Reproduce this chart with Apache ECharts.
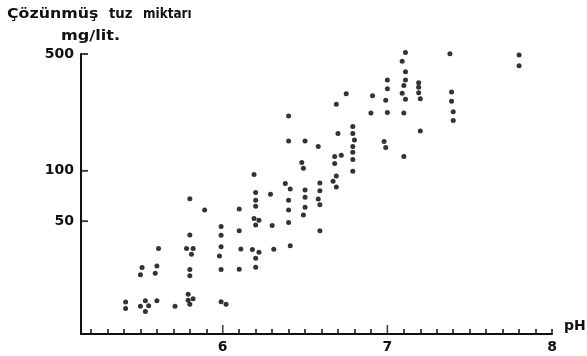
<!DOCTYPE html>
<html>
<head>
<meta charset="utf-8">
<script src="https://cdn.jsdelivr.net/npm/echarts@6/dist/echarts.min.js"></script>
<style>
html, body { margin: 0; padding: 0; background: #fff; }
#chart { width: 587px; height: 356px; }
</style>
</head>
<body>
<div id="chart"></div>
<script>
// pH of each sample
const phValues = [
  5.41, 5.41, 5.51, 5.50, 5.50, 5.53, 5.55, 5.53, 5.61, 5.60, 5.59, 5.60, 5.71,
  5.80, 5.80, 5.78, 5.82, 5.81, 5.80, 5.80, 5.79, 5.79, 5.82, 5.80, 5.89,
  5.99, 5.99, 5.99, 5.98, 5.99, 5.99, 6.02,
  6.10, 6.10, 6.11, 6.10,
  6.19, 6.20, 6.20, 6.20, 6.19, 6.22, 6.20, 6.18, 6.22, 6.20, 6.20,
  6.29, 6.30, 6.31,
  6.40, 6.40, 6.38, 6.41, 6.40, 6.40, 6.40, 6.41,
  6.50, 6.48, 6.49, 6.50, 6.50, 6.50, 6.49,
  6.58, 6.59, 6.59, 6.58, 6.59, 6.59,
  6.69, 6.70, 6.68, 6.72, 6.68, 6.69, 6.67, 6.69, 6.75,
  6.79, 6.79, 6.80, 6.79, 6.79, 6.79, 6.79,
  6.90, 6.91,
  7.00, 7.00, 6.99, 7.00, 6.98, 6.99,
  7.11, 7.09, 7.11, 7.11, 7.10, 7.09, 7.11, 7.10, 7.10,
  7.19, 7.19, 7.19, 7.20, 7.20,
  7.38, 7.39, 7.39, 7.40, 7.40,
  7.80, 7.80
];
// dissolved salt, mg/lit.
const saltValues = [
  16.4, 15.0, 26.4, 23.9, 15.5, 16.7, 15.6, 14.4, 34.3, 27.0, 24.4, 16.7, 15.5,
  68.2, 41.4, 34.3, 34.3, 31.7, 25.7, 23.6, 18.3, 16.8, 17.2, 15.9, 58.4,
  46.4, 41.2, 35.1, 31.0, 25.7, 16.5, 15.9,
  59.2, 43.8, 34.1, 25.8,
  95.0, 74.1, 66.8, 61.5, 51.8, 50.7, 47.4, 33.8, 32.6, 30.0, 26.5,
  72.5, 47.1, 34.0,
  213, 151, 83.9, 77.8, 66.6, 58.3, 49.1, 35.6,
  151, 112, 103.5, 76.9, 69.6, 60.6, 54.4,
  140, 84.5, 75.9, 67.8, 62.6, 43.8,
  250, 167, 122, 124, 110.6, 93, 86.8, 80, 289,
  184, 167, 153, 140, 129, 117, 99.3,
  222, 281,
  349, 310, 264, 223, 150, 138,
  510, 452, 392, 350, 324, 291, 268, 222, 122,
  336, 316, 293, 270, 173,
  502, 296, 261, 226, 200,
  494, 425
];
const xTickLabels = [6, 7, 8];
const xMajorTicks = [6, 7];
const yTickLabels = [50, 100, 500];
const xMin = 5.139, xMax = 8;
const yMin = 10.57, yMax = 500;

const xMinorTicks = [];
for (let i = 52; i <= 80; i++) {
  if (i !== 60 && i !== 70) xMinorTicks.push(i / 10);
}

const ink = '#111';
const font = 'DejaVu Sans';
const titleFont = 'bold 14px "DejaVu Sans"';

const points = phValues.map((p, i) => [p, saltValues[i]]);

const chart = echarts.init(document.getElementById('chart'));
chart.setOption({
  animation: false,
  grid: { left: 81, right: 35, top: 54, bottom: 22 },
  xAxis: {
    type: 'value', min: xMin, max: xMax, position: 'bottom',
    axisLine: { show: true, onZero: false, lineStyle: { color: ink, width: 2 } },
    axisTick: { show: true, inside: true, length: 5, customValues: xMinorTicks, lineStyle: { color: ink, width: 1.5 } },
    axisLabel: { show: true, customValues: xTickLabels, margin: 6, color: ink, fontSize: 14, fontWeight: 'bold', fontFamily: font },
    splitLine: { show: false }
  },
  yAxis: {
    type: 'log', min: yMin, max: yMax, position: 'left',
    axisLine: { show: true, onZero: false, lineStyle: { color: ink, width: 2 } },
    axisTick: { show: false },
    axisLabel: { show: true, customValues: yTickLabels, margin: 7, color: ink, fontSize: 14, fontWeight: 'bold', fontFamily: font },
    splitLine: { show: false }
  },
  series: [
    {
      type: 'scatter',
      data: points,
      symbol: 'circle',
      symbolSize: 5,
      clip: false,
      itemStyle: { color: '#000' }
    },
    {
      // y ticks at 50, 100, 500 (small bars pointing into the plot)
      type: 'scatter', silent: true, clip: false, z: 5,
      data: yTickLabels.map(v => [xMin, v]),
      symbol: 'rect', symbolSize: [7, 2], symbolOffset: [3.5, 0],
      itemStyle: { color: ink }
    },
    {
      // longer ticks at pH 6 and 7
      type: 'scatter', silent: true, clip: false, z: 5,
      data: xMajorTicks.map(v => [v, yMin]),
      symbol: 'rect', symbolSize: [1.6, 9], symbolOffset: [0, -4.5],
      itemStyle: { color: ink }
    }
  ],
  graphic: [
    { type: 'text', left: 7, top: 7, scaleX: 1.13, style: { text: 'Çözünmüş', font: titleFont, fill: ink } },
    { type: 'text', left: 109, top: 7, scaleX: 0.95, style: { text: 'tuz', font: titleFont, fill: ink } },
    { type: 'text', left: 143, top: 7, scaleX: 0.86, style: { text: 'miktarı', font: titleFont, fill: ink } },
    { type: 'text', left: 61, top: 29, scaleX: 1.15, style: { text: 'mg/lit.', font: titleFont, fill: ink } },
    { type: 'text', left: 564, top: 319, style: { text: 'pH', font: titleFont, fill: ink } }
  ]
});
</script>
</body>
</html>
